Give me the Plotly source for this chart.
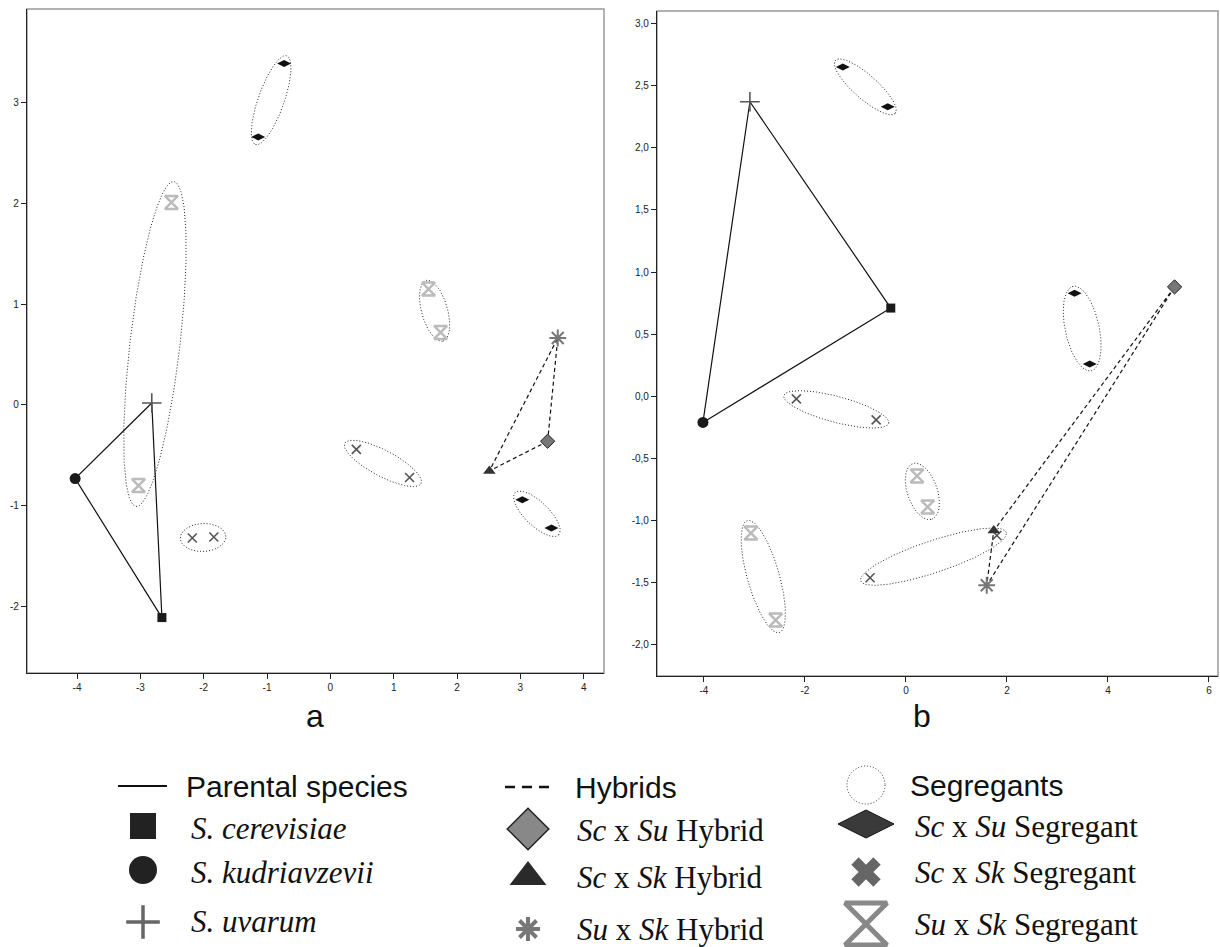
import numpy as np
import plotly.graph_objects as go

# ---------------- DATA ----------------
# Panel a
a_parent_names = ["S. cerevisiae", "S. kudriavzevii", "S. uvarum"]
a_parent_x = [-2.66, -4.03, -2.82]
a_parent_y = [-2.11, -0.73, 0.02]
a_hybrid_names = ["Sc x Su Hybrid", "Sc x Sk Hybrid", "Su x Sk Hybrid"]
a_hybrid_x = [3.43, 2.51, 3.59]
a_hybrid_y = [-0.36, -0.655, 0.665]
a_seg_scsu_x = [-0.73, -1.14, 3.03, 3.49]
a_seg_scsu_y = [3.39, 2.66, -0.94, -1.22]
a_seg_scsk_x = [-2.18, -1.84, 0.41, 1.25]
a_seg_scsk_y = [-1.32, -1.31, -0.44, -0.72]
a_seg_susk_x = [-2.51, -3.03, 1.55, 1.74]
a_seg_susk_y = [2.01, -0.80, 1.15, 0.72]

# Panel b
b_parent_x = [-0.30, -4.02, -3.09]
b_parent_y = [0.71, -0.21, 2.37]
b_hybrid_x = [5.32, 1.74, 1.60]
b_hybrid_y = [0.88, -1.08, -1.52]
b_seg_scsu_x = [-1.25, -0.36, 3.34, 3.64]
b_seg_scsu_y = [2.65, 2.33, 0.83, 0.26]
b_seg_scsk_x = [-2.17, -0.59, -0.71, 1.80]
b_seg_scsk_y = [-0.02, -0.19, -1.46, -1.12]
b_seg_susk_x = [-3.07, -2.58, 0.22, 0.43]
b_seg_susk_y = [-1.10, -1.80, -0.64, -0.89]

# Ticks
a_xticks = [-4, -3, -2, -1, 0, 1, 2, 3, 4]
a_xticklabels = ["-4", "-3", "-2", "-1", "0", "1", "2", "3", "4"]
a_yticks = [-2, -1, 0, 1, 2, 3]
a_yticklabels = ["-2", "-1", "0", "1", "2", "3"]
b_xticks = [-4, -2, 0, 2, 4, 6]
b_xticklabels = ["-4", "-2", "0", "2", "4", "6"]
b_yticks = [-2.0, -1.5, -1.0, -0.5, 0.0, 0.5, 1.0, 1.5, 2.0, 2.5, 3.0]
b_yticklabels = ["-2,0", "-1,5", "-1,0", "-0,5", "0,0", "0,5", "1,0", "1,5", "2,0", "2,5", "3,0"]

# ---------------- LAYOUT GEOMETRY ----------------
W, H = 1220, 947
A_RANGE_X, A_RANGE_Y = [-4.79, 4.32], [-2.66, 3.93]
B_RANGE_X, B_RANGE_Y = [-4.93, 6.18], [-2.25, 3.10]
A_PX = (27, 604, 9, 673)    # left, right, top, bottom
B_PX = (657, 1218, 11, 676)

# ellipse padding (px along major) and semi-minor (px) for each consecutive pair
ELL_A = {"scsu": [(8, 13), (10, 12)], "scsk": [(12, 14), (13, 13)], "susk": [(21, 25), (9, 13)]}
ELL_B = {"scsu": [(10, 12), (7, 17)], "scsk": [(13, 13), (10, 16)], "susk": [(13, 16), (13, 15)]}
DOT = "1px,2px"

fig = go.Figure()

def scales(px, rx, ry):
    sx = (px[1] - px[0]) / (rx[1] - rx[0])
    sy = (px[3] - px[2]) / (ry[1] - ry[0])
    return sx, sy

def ellipse(x1, y1, x2, y2, pad, minor, sx, sy):
    dx, dy = (x2 - x1) * sx, (y2 - y1) * sy
    d = np.hypot(dx, dy)
    ux, uy = dx / d, dy / d
    vx, vy = -uy, ux
    L = d / 2 + pad
    t = np.linspace(0, 2 * np.pi, 240)
    cx, cy = (x1 + x2) / 2, (y1 + y2) / 2
    ex = cx + (L * np.cos(t) * ux + minor * np.sin(t) * vx) / sx
    ey = cy + (L * np.cos(t) * uy + minor * np.sin(t) * vy) / sy
    return ex, ey

def add_panel(xa, ya, px, rx, ry, parent_x, parent_y, hyb_x, hyb_y, segs, ells, big_hg):
    sx, sy = scales(px, rx, ry)
    for key, (sxs, sys_) in segs.items():
        for k, (pad, mn) in enumerate(ells[key]):
            i, j = 2 * k, 2 * k + 1
            ex, ey = ellipse(sxs[i], sys_[i], sxs[j], sys_[j], pad, mn, sx, sy)
            fig.add_trace(go.Scatter(x=ex, y=ey, mode="lines", xaxis=xa, yaxis=ya,
                                     line=dict(color="#222", width=1, dash=DOT),
                                     showlegend=False, hoverinfo="skip"))
    fig.add_trace(go.Scatter(x=parent_x + parent_x[:1], y=parent_y + parent_y[:1], mode="lines",
                             xaxis=xa, yaxis=ya, line=dict(color="#111", width=1.2),
                             showlegend=False, hoverinfo="skip"))
    fig.add_trace(go.Scatter(x=hyb_x + hyb_x[:1], y=hyb_y + hyb_y[:1], mode="lines",
                             xaxis=xa, yaxis=ya, line=dict(color="#111", width=1.2, dash="4px,3px"),
                             showlegend=False, hoverinfo="skip"))
    sxs, sys_ = segs["scsu"]
    fig.add_trace(go.Scatter(x=sxs, y=sys_, mode="markers", xaxis=xa, yaxis=ya,
                             marker=dict(symbol="diamond-wide", size=10, color="#111"), showlegend=False))
    sxs, sys_ = segs["scsk"]
    fig.add_trace(go.Scatter(x=sxs, y=sys_, mode="markers", xaxis=xa, yaxis=ya,
                             marker=dict(symbol="x-thin-open", size=9, color="#555",
                                         line=dict(color="#555", width=1.6)),
                             showlegend=False))
    sxs, sys_ = segs["susk"]
    fig.add_trace(go.Scatter(x=sxs, y=sys_, mode="markers", xaxis=xa, yaxis=ya,
                             marker=dict(symbol="hourglass-open", size=big_hg, color="#bbb",
                                         line=dict(color="#bbb", width=2.5)),
                             showlegend=False))
    fig.add_trace(go.Scatter(x=[parent_x[0]], y=[parent_y[0]], mode="markers", xaxis=xa, yaxis=ya,
                             marker=dict(symbol="square", size=9, color="#1a1a1a"), showlegend=False))
    fig.add_trace(go.Scatter(x=[parent_x[1]], y=[parent_y[1]], mode="markers", xaxis=xa, yaxis=ya,
                             marker=dict(symbol="circle", size=11, color="#1a1a1a"), showlegend=False))
    fig.add_trace(go.Scatter(x=[parent_x[2]], y=[parent_y[2]], mode="markers", xaxis=xa, yaxis=ya,
                             marker=dict(symbol="cross-thin-open", size=14, color="#555",
                                         line=dict(color="#555", width=1.6)),
                             showlegend=False))
    fig.add_trace(go.Scatter(x=[hyb_x[0]], y=[hyb_y[0]], mode="markers", xaxis=xa, yaxis=ya,
                             marker=dict(symbol="diamond", size=11, color="#777", line=dict(color="#222", width=1)),
                             showlegend=False))
    fig.add_trace(go.Scatter(x=[hyb_x[1]], y=[hyb_y[1]], mode="markers", xaxis=xa, yaxis=ya,
                             marker=dict(symbol="triangle-up", size=11, color="#333"), showlegend=False))
    fig.add_trace(go.Scatter(x=[hyb_x[2]], y=[hyb_y[2]], mode="markers", xaxis=xa, yaxis=ya,
                             marker=dict(symbol="asterisk-open", size=14, color="#777",
                                         line=dict(color="#777", width=2)),
                             showlegend=False))

add_panel("x", "y", A_PX, A_RANGE_X, A_RANGE_Y, a_parent_x, a_parent_y, a_hybrid_x, a_hybrid_y,
          {"scsu": (a_seg_scsu_x, a_seg_scsu_y), "scsk": (a_seg_scsk_x, a_seg_scsk_y),
           "susk": (a_seg_susk_x, a_seg_susk_y)}, ELL_A, 13)
add_panel("x2", "y2", B_PX, B_RANGE_X, B_RANGE_Y, b_parent_x, b_parent_y, b_hybrid_x, b_hybrid_y,
          {"scsu": (b_seg_scsu_x, b_seg_scsu_y), "scsk": (b_seg_scsk_x, b_seg_scsk_y),
           "susk": (b_seg_susk_x, b_seg_susk_y)}, ELL_B, 13)

# ---------------- LEGEND (drawn on a pixel-coordinate overlay axis) ----------------
def lg(x, y, **marker):
    fig.add_trace(go.Scatter(x=[x], y=[y], mode="markers", xaxis="x3", yaxis="y3",
                             marker=marker, showlegend=False, hoverinfo="skip"))

fig.add_trace(go.Scatter(x=[118, 167], y=[786, 786], mode="lines", xaxis="x3", yaxis="y3",
                         line=dict(color="#111", width=2), showlegend=False, hoverinfo="skip"))
fig.add_trace(go.Scatter(x=[505, 552], y=[787, 787], mode="lines", xaxis="x3", yaxis="y3",
                         line=dict(color="#111", width=2.5, dash="10px,7px"), showlegend=False, hoverinfo="skip"))
lg(143, 826, symbol="square", size=26, color="#222")
lg(143, 870, symbol="circle", size=28, color="#222")
lg(143, 922, symbol="cross-thin-open", size=24, color="#666", line=dict(color="#666", width=3.5))
lg(528, 829, symbol="diamond", size=32, color="#888", line=dict(color="#222", width=1.5))
lg(528, 877, symbol="triangle-up", size=32, color="#2a2a2a")
lg(528, 929, symbol="asterisk-open", size=20, color="#777", line=dict(color="#777", width=4))
lg(866, 824, symbol="diamond-wide", size=40, color="#3a3a3a", line=dict(color="#111", width=1))
lg(866, 872, symbol="x", size=26, color="#666")
lg(866, 924, symbol="hourglass-open", size=42, color="#888", line=dict(color="#888", width=5))

shapes = [
    dict(type="circle", xref="x3", yref="y3", x0=847, x1=885, y0=766, y1=804,
         line=dict(color="#333", width=1, dash=DOT)),
    dict(type="rect", xref="x domain", yref="y domain", x0=0, x1=1, y0=0, y1=1,
         line=dict(color="#999", width=1.5), layer="below"),
    dict(type="rect", xref="x2 domain", yref="y2 domain", x0=0, x1=1, y0=0, y1=1,
         line=dict(color="#999", width=1.5), layer="below"),
]

SANS = "Liberation Sans, Arial, sans-serif"
SERIF = "Liberation Serif, Times New Roman, serif"
ann = []
def txt(x, y, s, font, size=30):
    ann.append(dict(x=x, y=y, xref="x3", yref="y3", text=s, showarrow=False, xanchor="left",
                    yanchor="middle", font=dict(family=font, size=size, color="#111")))

SZ_SANS, SZ_SERIF = 30, 31
txt(184, 786, "Parental species", SANS, SZ_SANS)
txt(189, 828, "<i>S. cerevisiae</i>", SERIF, SZ_SERIF)
txt(189, 872, "<i>S. kudriavzevii</i>", SERIF, SZ_SERIF)
txt(189, 921, "<i>S. uvarum</i>", SERIF, SZ_SERIF)
txt(573, 787, "Hybrids", SANS, SZ_SANS)
txt(575, 830, "<i>Sc</i> x <i>Su</i> Hybrid", SERIF, SZ_SERIF)
txt(575, 877, "<i>Sc</i> x <i>Sk</i> Hybrid", SERIF, SZ_SERIF)
txt(575, 929, "<i>Su</i> x <i>Sk</i> Hybrid", SERIF, SZ_SERIF)
txt(908, 785, "Segregants", SANS, SZ_SANS)
txt(913, 826, "<i>Sc</i> x <i>Su</i> Segregant", SERIF, SZ_SERIF)
txt(913, 872, "<i>Sc</i> x <i>Sk</i> Segregant", SERIF, SZ_SERIF)
txt(913, 924, "<i>Su</i> x <i>Sk</i> Segregant", SERIF, SZ_SERIF)
ann.append(dict(x=315, y=716, xref="x3", yref="y3", text="a", showarrow=False, yanchor="middle",
                font=dict(family=SANS, size=32, color="#111")))
ann.append(dict(x=922, y=716, xref="x3", yref="y3", text="b", showarrow=False, yanchor="middle",
                font=dict(family=SANS, size=32, color="#111")))

def dom(px):
    return [px[0] / W, px[1] / W], [1 - px[3] / H, 1 - px[2] / H]

ax_common = dict(showgrid=False, zeroline=False, showline=True, linecolor="#222", linewidth=1.2,
                 ticks="outside", ticklen=5, tickcolor="#222", tickwidth=1,
                 tickfont=dict(family=SANS, size=10, color="#222"), fixedrange=True)
adx, ady = dom(A_PX)
bdx, bdy = dom(B_PX)

fig.update_layout(
    width=W, height=H, margin=dict(l=0, r=0, t=0, b=0),
    paper_bgcolor="white", plot_bgcolor="rgba(0,0,0,0)",
    xaxis=dict(domain=adx, range=A_RANGE_X, anchor="y", tickvals=a_xticks, ticktext=a_xticklabels, **ax_common),
    yaxis=dict(domain=ady, range=A_RANGE_Y, anchor="x", tickvals=a_yticks, ticktext=a_yticklabels, **ax_common),
    xaxis2=dict(domain=bdx, range=B_RANGE_X, anchor="y2", tickvals=b_xticks, ticktext=b_xticklabels, **ax_common),
    yaxis2=dict(domain=bdy, range=B_RANGE_Y, anchor="x2", tickvals=b_yticks, ticktext=b_yticklabels, **ax_common),
    xaxis3=dict(domain=[0, 1], range=[0, W], anchor="y3", visible=False, fixedrange=True),
    yaxis3=dict(domain=[0, 1], range=[H, 0], anchor="x3", visible=False, fixedrange=True),
    shapes=shapes, annotations=ann, showlegend=False,
)

fig.write_html("out.html", config={"displayModeBar": False},
               post_script="document.body.style.margin='0';document.body.style.overflow='hidden';")
